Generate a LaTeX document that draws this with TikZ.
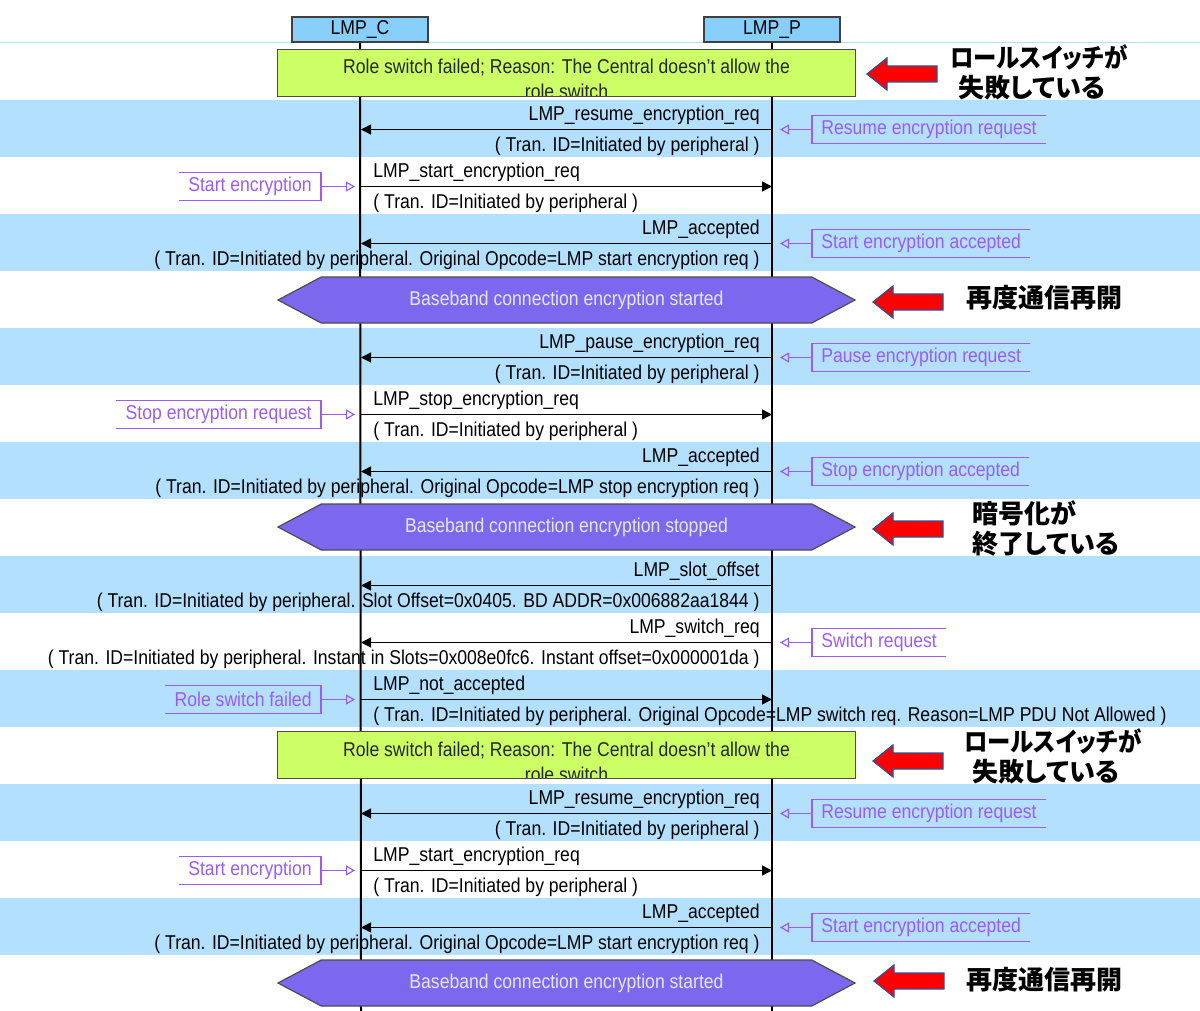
\documentclass[tikz,border=0pt]{standalone}
\usepackage{fontspec}
\setmainfont{Liberation Sans}[FakeStretch=0.88]
\newfontfamily\jpfont{Noto Sans CJK JP}[RawFeature=+palt]
\newfontfamily\jpnarrow{Noto Sans CJK JP}[RawFeature=+palt, FakeStretch=0.9]
\usetikzlibrary{positioning,arrows.meta,shapes.symbols}

\definecolor{headblue}{HTML}{87CEFA}
\definecolor{bandblue}{HTML}{B3E0FF}
\definecolor{failgreen}{HTML}{CCFF66}
\definecolor{hexpurple}{HTML}{7B68EE}
\definecolor{hextext}{HTML}{E6E6FA}
\definecolor{notepurple}{HTML}{9B5CF5}
\definecolor{arrowedge}{HTML}{2F528F}

\begin{document}
\begin{tikzpicture}[x=0.5pt, y=-0.5pt,
    msgfont/.style={font=\fontsize{10}{12}\selectfont},
    lbl/.style={msgfont, inner sep=0pt, text height=7.5pt, text depth=2pt},
    msg/.style={line width=0.75pt, -{Triangle[length=5pt,width=5pt]}},
    lifeline/.style={line width=1pt},
    headbox/.style={draw=black!75, fill=headblue, line width=0.6pt, minimum width=68pt,
      minimum height=12.5pt, inner sep=0pt, msgfont},
    failbox/.style={fill=failgreen, minimum width=288.5pt, minimum height=23pt, inner sep=0pt},
    failtext/.style={msgfont, text=black!85, inner sep=0pt, anchor=base},
    hexbox/.style={shape=signal, signal to=west and east, signal pointer angle=56,
      draw=black!70, line width=0.6pt, fill=hexpurple, minimum width=288.5pt,
      minimum height=23pt, inner sep=0pt, text=hextext, msgfont},
    note/.style={msgfont, text=notepurple, inner xsep=4.5pt, inner ysep=0pt, minimum height=13.5pt},
    notebr/.style={draw=notepurple, line width=0.6pt},
    notearr/.style={draw=notepurple, line width=0.6pt, -{Triangle[open,length=4.5pt,width=5pt]}},
    jp/.style={font=\jpfont\bfseries\fontsize{13}{15}\selectfont, anchor=west, align=left, inner sep=0pt},
    redarr/.pic={\draw[draw=arrowedge, fill=red, line width=0.6pt]
      (0,0) -- (20,-16) -- (20,-8) -- (70,-8) -- (70,8) -- (20,8) -- (20,16) -- cycle;}
  ]
  \useasboundingbox (0,0) rectangle (1200,1011);

  % row bands
  \foreach \i in {1,3,...,15}
    \fill[bandblue] (0,{43+57*\i}) rectangle (1200,{100+57*\i});
  \draw[bandblue, line width=0.5pt] (0,43) -- (1200,43);

  % lifelines
  \node[headbox] (C) at (360,29.5) {LMP\_C};
  \node[headbox] (P) at (772,29.5) {LMP\_P};
  \coordinate (Cend) at (361,1011);
  \coordinate (Pend) at (772,1011);
  \draw[lifeline] (C.south) -- (Cend);
  \draw[lifeline] (P.south) -- (Pend);
  \foreach \i in {1,...,16} {
    \coordinate (c\i) at (361,{72.5+57*\i});
    \coordinate (p\i) at (772,{72.5+57*\i});
  }

  % role switch failed
  \node[failbox] (f0) at (566.5,73) {};
  \begin{scope}
    \clip (f0.south west) rectangle (f0.north east);
    \node[failtext] (f0a) at (566.5,74) {Role switch failed; Reason: The Central doesn't allow the};
    \node[failtext] (f0b) at (566.5,99) {role switch};
  \end{scope}
  \draw[black!70, line width=0.6pt] (f0.south west) rectangle (f0.north east);

  % messages
  \draw[msg] (p1) -- (c1);
  \node[lbl, above left=2.5pt and 6pt of p1] (m1) {LMP\_resume\_encryption\_req};
  \node[lbl, below left=3.5pt and 6pt of p1] (m1p) {( Tran. ID=Initiated by peripheral )};
  \draw[msg] (c2) -- (p2);
  \node[lbl, above right=2.5pt and 6pt of c2] (m2) {LMP\_start\_encryption\_req};
  \node[lbl, below right=3.5pt and 6pt of c2] (m2p) {( Tran. ID=Initiated by peripheral )};
  \draw[msg] (p3) -- (c3);
  \node[lbl, above left=2.5pt and 6pt of p3] (m3) {LMP\_accepted};
  \node[lbl, below left=3.5pt and 6pt of p3] (m3p) {( Tran. ID=Initiated by peripheral. Original Opcode=LMP start encryption req )};

  \node[hexbox] (h4) at (566.5,300) {Baseband connection encryption started};

  \draw[msg] (p5) -- (c5);
  \node[lbl, above left=2.5pt and 6pt of p5] (m5) {LMP\_pause\_encryption\_req};
  \node[lbl, below left=3.5pt and 6pt of p5] (m5p) {( Tran. ID=Initiated by peripheral )};
  \draw[msg] (c6) -- (p6);
  \node[lbl, above right=2.5pt and 6pt of c6] (m6) {LMP\_stop\_encryption\_req};
  \node[lbl, below right=3.5pt and 6pt of c6] (m6p) {( Tran. ID=Initiated by peripheral )};
  \draw[msg] (p7) -- (c7);
  \node[lbl, above left=2.5pt and 6pt of p7] (m7) {LMP\_accepted};
  \node[lbl, below left=3.5pt and 6pt of p7] (m7p) {( Tran. ID=Initiated by peripheral. Original Opcode=LMP stop encryption req )};

  \node[hexbox] (h8) at (566.5,527) {Baseband connection encryption stopped};

  \draw[msg] (p9) -- (c9);
  \node[lbl, above left=2.5pt and 6pt of p9] (m9) {LMP\_slot\_offset};
  \node[lbl, below left=3.5pt and 6pt of p9] (m9p) {( Tran. ID=Initiated by peripheral. Slot Offset=0x0405. BD ADDR=0x006882aa1844 )};
  \draw[msg] (p10) -- (c10);
  \node[lbl, above left=2.5pt and 6pt of p10] (m10) {LMP\_switch\_req};
  \node[lbl, below left=3.5pt and 6pt of p10] (m10p) {( Tran. ID=Initiated by peripheral. Instant in Slots=0x008e0fc6. Instant offset=0x000001da )};
  \draw[msg] (c11) -- (p11);
  \node[lbl, above right=2.5pt and 6pt of c11] (m11) {LMP\_not\_accepted};
  \node[lbl, below right=3.5pt and 6pt of c11] (m11p) {( Tran. ID=Initiated by peripheral. Original Opcode=LMP switch req. Reason=LMP PDU Not Allowed )};

  % role switch failed again
  \node[failbox] (f12) at (566.5,755) {};
  \begin{scope}
    \clip (f12.south west) rectangle (f12.north east);
    \node[failtext] (f12a) at (566.5,756) {Role switch failed; Reason: The Central doesn't allow the};
    \node[failtext] (f12b) at (566.5,781) {role switch};
  \end{scope}
  \draw[black!70, line width=0.6pt] (f12.south west) rectangle (f12.north east);

  \draw[msg] (p13) -- (c13);
  \node[lbl, above left=2.5pt and 6pt of p13] (m13) {LMP\_resume\_encryption\_req};
  \node[lbl, below left=3.5pt and 6pt of p13] (m13p) {( Tran. ID=Initiated by peripheral )};
  \draw[msg] (c14) -- (p14);
  \node[lbl, above right=2.5pt and 6pt of c14] (m14) {LMP\_start\_encryption\_req};
  \node[lbl, below right=3.5pt and 6pt of c14] (m14p) {( Tran. ID=Initiated by peripheral )};
  \draw[msg] (p15) -- (c15);
  \node[lbl, above left=2.5pt and 6pt of p15] (m15) {LMP\_accepted};
  \node[lbl, below left=3.5pt and 6pt of p15] (m15p) {( Tran. ID=Initiated by peripheral. Original Opcode=LMP start encryption req )};

  \node[hexbox] (h16) at (566.5,983) {Baseband connection encryption started};

  % notes on the peripheral side
  \foreach \r/\t in {1/Resume encryption request, 3/Start encryption accepted,
      5/Pause encryption request, 7/Stop encryption accepted, 10/Switch request,
      13/Resume encryption request, 15/Start encryption accepted} {
    \node[note, right=20pt of p\r] (n\r) {\t};
    \draw[notebr] (n\r.north east) -- (n\r.north west) -- (n\r.south west) -- (n\r.south east);
    \draw[notearr] (n\r.west) -- ([xshift=4pt]p\r);
  }
  % notes on the central side
  \foreach \r/\t in {2/Start encryption, 6/Stop encryption request,
      11/Role switch failed, 14/Start encryption} {
    \node[note, left=20pt of c\r] (n\r) {\t};
    \draw[notebr] (n\r.north west) -- (n\r.north east) -- (n\r.south east) -- (n\r.south west);
    \draw[notearr] (n\r.east) -- ([xshift=-3pt]c\r);
  }

  % comments in Japanese
  \pic at (867,74) {redarr};
  \node[jp] (j0) at (950,72.5) {{\jpnarrow\bfseries ロールスイッチが}\\\hspace*{4pt}失敗している};
  \pic at (873,302) {redarr};
  \node[jp] (j4) at (966,298) {再度通信再開};
  \pic at (873,529) {redarr};
  \node[jp] (j8) at (972,528) {暗号化が\\終了している};
  \pic at (873,761) {redarr};
  \node[jp] (j12) at (964,756) {{\jpnarrow\bfseries ロールスイッチが}\\\hspace*{4pt}失敗している};
  \pic at (874,981) {redarr};
  \node[jp] (j16) at (966,980) {再度通信再開};
\end{tikzpicture}
\end{document}
